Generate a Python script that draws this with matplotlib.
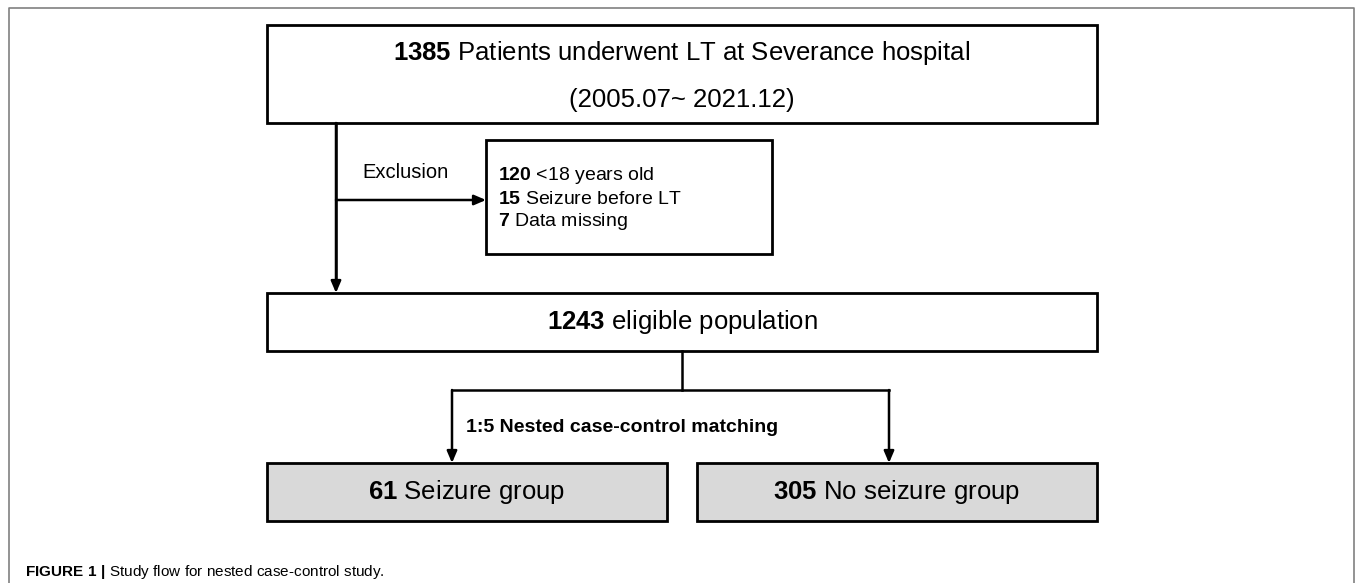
import matplotlib
matplotlib.use("Agg")
import matplotlib.pyplot as plt
from matplotlib.patches import Rectangle

plt.rcParams['font.family'] = ['Liberation Sans', 'DejaVu Sans']
plt.rcParams['mathtext.fontset'] = 'custom'
plt.rcParams['mathtext.rm'] = 'Liberation Sans'
plt.rcParams['mathtext.bf'] = 'Liberation Sans:bold'

# ---- content ----
total_n = 1385
total_label = "Patients underwent LT at Severance hospital"
period_label = "(2005.07~ 2021.12)"
exclusion_title = "Exclusion"
exclusion_counts = [120, 15, 7]
exclusion_reasons = ["<18 years old", "Seizure before LT", "Data missing"]
eligible_n = 1243
eligible_label = "eligible population"
matching_label = "1:5 Nested case-control matching"
group_counts = [61, 305]
group_labels = ["Seizure group", "No seizure group"]
caption_bold = "FIGURE 1 |"
caption_text = "Study flow for nested case-control study."

W, H = 1355, 583
fig = plt.figure(figsize=(W / 100, H / 100), dpi=100)
ax = fig.add_axes([0, 0, 1, 1])
ax.set_xlim(0, W)
ax.set_ylim(H, 0)
ax.axis('off')

LW = 2.0
box_fs = 18.5


def bold_math(s):
    return r"$\mathbf{" + str(s).replace(" ", r"\ ") + "}$"


def box(x0, y0, x1, y1, fc='white'):
    ax.add_patch(Rectangle((x0, y0), x1 - x0, y1 - y0, fc=fc, ec='black', lw=LW, zorder=2))


def arrow(x0, y0, x1, y1):
    ax.annotate("", xy=(x1, y1), xytext=(x0, y0),
                arrowprops=dict(arrowstyle="-|>,head_length=0.7,head_width=0.3",
                                color='black', lw=1.8, shrinkA=0, shrinkB=0), zorder=3)


# outer frame (open bottom)
ax.plot([9, 9, 1354, 1354], [H + 5, 8, 8, H + 5], color='#808080', lw=1.2, clip_on=False)

# top box
box(267, 25, 1097, 123)
ax.text(682, 53, bold_math(total_n) + " " + total_label, ha='center', va='center', fontsize=box_fs, zorder=4)
ax.text(682, 100, period_label, ha='center', va='center', fontsize=box_fs, zorder=4)

# exclusion
ax.plot([336, 336], [123, 280], color='black', lw=1.8)
arrow(336, 123, 336, 293)
arrow(336, 200, 486, 200)
ax.text(406, 172, exclusion_title, ha='center', va='center', fontsize=14.5)
box(486, 140, 772, 254)
for i, (c, r) in enumerate(zip(exclusion_counts, exclusion_reasons)):
    ax.text(498, 176 + i * 23, bold_math(c) + " " + r, ha='left', va='center', fontsize=14, zorder=4)

# eligible
box(267, 293, 1097, 351)
ax.text(682, 322, bold_math(eligible_n) + " " + eligible_label, ha='center', va='center',
        fontsize=box_fs, zorder=4)

# split
ax.plot([682, 682], [351, 390], color='black', lw=1.8)
ax.plot([452, 889], [390, 390], color='black', lw=1.8)
arrow(452, 390, 452, 463)
arrow(889, 390, 889, 463)
ax.text(622, 428, matching_label, ha='center', va='center', fontsize=14, fontweight='bold')

# groups
for (x0, x1), c, lab in zip([(267, 667), (697, 1097)], group_counts, group_labels):
    box(x0, 463, x1, 521, fc='#d9d9d9')
    ax.text((x0 + x1) / 2, 492, bold_math(c) + " " + lab, ha='center', va='center',
            fontsize=box_fs, zorder=4)

# caption
ax.text(25, 572, bold_math(caption_bold.replace("|", "")) + r"$\mathbf{|}$ " + caption_text,
        ha='left', va='center', fontsize=11)

fig.savefig("out.png", dpi=100)
